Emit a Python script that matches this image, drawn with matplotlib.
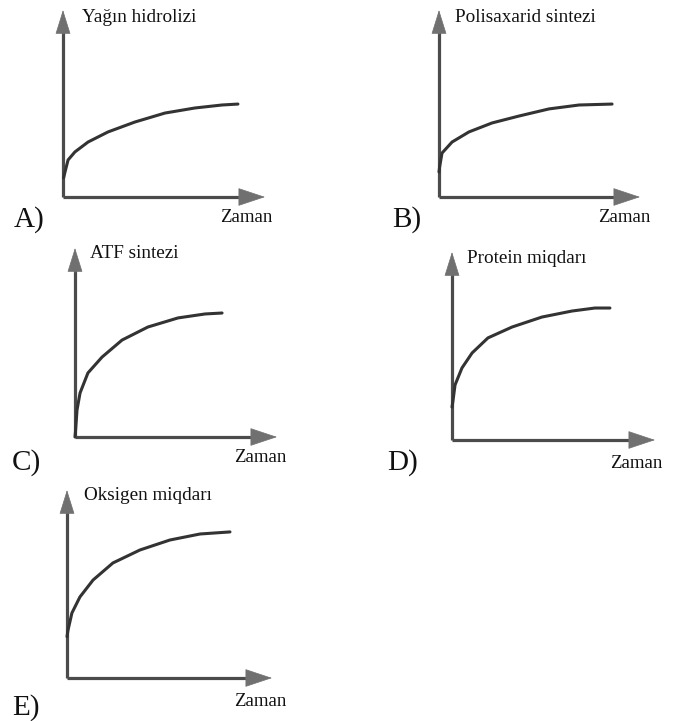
import matplotlib
matplotlib.use("Agg")
import matplotlib.pyplot as plt

# values, axes run 0..10 in both directions
time_a = [0.03, 0.10, 0.25, 0.59, 1.24, 2.23, 3.56, 5.05, 6.53, 7.87, 8.66]
value_a = [1.02, 1.34, 1.98, 2.41, 2.94, 3.48, 4.01, 4.49, 4.76, 4.92, 4.97]

time_b = [0.0, 0.03, 0.15, 0.65, 1.49, 2.64, 3.98, 5.47, 6.97, 8.61]
value_b = [1.34, 1.60, 2.35, 2.94, 3.48, 3.96, 4.33, 4.71, 4.92, 4.97]

time_c = [0.0, 0.03, 0.10, 0.25, 0.64, 1.34, 2.33, 3.61, 5.10, 6.44, 7.28]
value_c = [0.0, 0.37, 1.43, 2.33, 3.39, 4.23, 5.13, 5.82, 6.30, 6.51, 6.56]

time_d = [0.0, 0.04, 0.15, 0.49, 0.99, 1.77, 2.96, 4.43, 5.91, 7.04, 7.78]
value_d = [1.75, 2.02, 2.93, 3.83, 4.63, 5.43, 6.01, 6.54, 6.86, 7.02, 7.02]

time_e = [0.0, 0.05, 0.24, 0.63, 1.27, 2.24, 3.56, 5.02, 6.49, 7.95]
value_e = [2.2, 2.55, 3.46, 4.31, 5.21, 6.12, 6.81, 7.34, 7.66, 7.77]

titles = ["Yağın hidrolizi", "Polisaxarid sintezi", "ATF sintezi",
          "Protein miqdarı", "Oksigen miqdarı"]
letters = ["A)", "B)", "C)", "D)", "E)"]
x_label = "Zaman"

W, H = 679, 721
fig = plt.figure(figsize=(W / 100, H / 100), dpi=100)
fig.patch.set_facecolor("white")
plt.rcParams["font.family"] = ["Liberation Serif", "DejaVu Serif"]

# pixel layout: origin, x-arrow tip, y-arrow tip, title, "Zaman", letter
layout = [
    dict(origin=(63, 197), xtip=265, ytip=10, title=(82, 17), zaman=(220, 218), letter=(14, 220)),
    dict(origin=(439, 197), xtip=640, ytip=10, title=(455, 17), zaman=(598, 218), letter=(392, 220)),
    dict(origin=(75, 437), xtip=277, ytip=248, title=(90, 253), zaman=(234, 457), letter=(12, 463)),
    dict(origin=(452, 440), xtip=655, ytip=252, title=(467, 258), zaman=(610, 463), letter=(387, 463)),
    dict(origin=(67, 678), xtip=272, ytip=490, title=(84, 496), zaman=(234, 702), letter=(12, 708)),
]
curves = [(time_a, value_a), (time_b, value_b), (time_c, value_c),
          (time_d, value_d), (time_e, value_e)]

axis_color = "#4b4b4b"
head_color = "#707070"
curve_color = "#333333"


def px_to_fig(px, py):
    return px / W, 1 - py / H


for lay, (t, v), title, letter in zip(layout, curves, titles, letters):
    ox, oy = lay["origin"]
    left, bottom = px_to_fig(ox, oy)
    width = (lay["xtip"] - ox) / W
    height = (oy - lay["ytip"]) / H
    ax = fig.add_axes([left, bottom, width, height])
    ax.set_xlim(0, 10)
    ax.set_ylim(0, 10)
    ax.axis("off")

    # axis shafts
    ax.plot([0, 9.0], [0, 0], color=axis_color, lw=2.3, clip_on=False, solid_capstyle="butt")
    ax.plot([0, 0], [0, 9.0], color=axis_color, lw=2.3, clip_on=False, solid_capstyle="butt")
    # arrow heads
    ax.annotate("", xy=(10, 0), xytext=(8.7, 0), annotation_clip=False,
                arrowprops=dict(arrowstyle="-|>,head_length=1.8,head_width=0.6",
                                mutation_scale=10, color=head_color, lw=0.5,
                                shrinkA=0, shrinkB=0))
    ax.annotate("", xy=(0, 10), xytext=(0, 8.7), annotation_clip=False,
                arrowprops=dict(arrowstyle="-|>,head_length=1.6,head_width=0.5",
                                mutation_scale=10, color=head_color, lw=0.5,
                                shrinkA=0, shrinkB=0))

    ax.plot(t, v, color=curve_color, lw=2.2, clip_on=False,
            solid_capstyle="round", solid_joinstyle="round")

    tx, ty = px_to_fig(*lay["title"])
    fig.text(tx, ty, title, fontsize=13.8, color="#111111", ha="left", va="center")
    zx, zy = px_to_fig(*lay["zaman"])
    fig.text(zx, zy, x_label, fontsize=13.5, color="#111111", ha="left", va="center")
    lx, ly = px_to_fig(*lay["letter"])
    fig.text(lx, ly, letter, fontsize=21, color="#111111", ha="left", va="center")

fig.savefig("out.png", dpi=100, facecolor="white")
